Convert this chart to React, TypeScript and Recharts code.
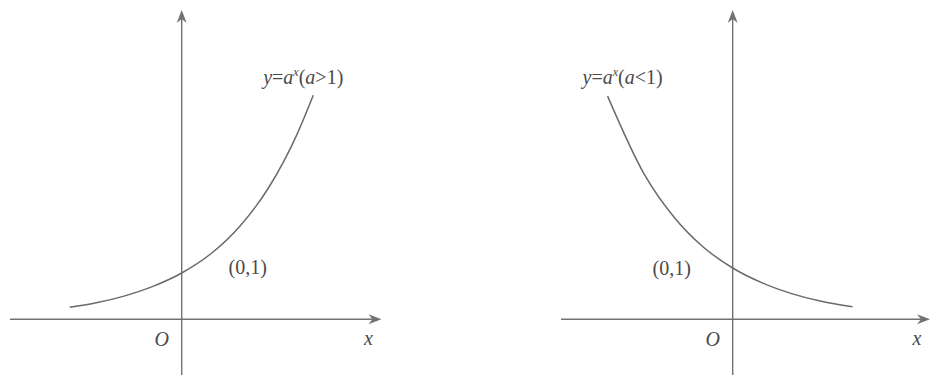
import React from 'react';
import { LineChart, Line, XAxis, YAxis, ReferenceLine, ReferenceDot } from 'recharts';

// y = a^x, a > 1 (left panel)
const growthX = [-1.94, -1.5, -1, -0.5, 0, 0.5, 1, 1.5, 2, 2.28];
const growthY = [0.26, 0.35, 0.5, 0.71, 1, 1.41, 2, 2.83, 4, 4.84];

// y = a^x, a < 1 (right panel)
const decayX = [-2.12, -1.5, -1, -0.5, 0, 0.5, 1, 1.5, 2.03];
const decayY = [4.35, 2.83, 2, 1.41, 1, 0.71, 0.5, 0.35, 0.245];

const growthLabel = { base: '>', num: '1' };
const decayLabel = { base: '<', num: '1' };
const pointLabel = '(0,1)';
const originLabel = 'O';
const axisLabel = 'x';

const FONT = '"Liberation Serif", "DejaVu Serif", serif';
const AXIS = '#727272';
const CURVE = '#6a6a6a';
const INK = '#4a4a4a';

type PanelProps = {
    xs: number[];
    ys: number[];
    xDomain: [number, number];
    yDomain: [number, number];
    xAxisFrom: number;
    xAxisTo: number;
    yAxisTo: number;
    sign: { base: string; num: string };
    labelAt: 'first' | 'last';
    labelDx: number;
    labelDy: number;
    pointDx: number;
    pointDy: number;
};

const W = 466;
const H = 375;

// filled arrow heads with a slightly hollow back
const ArrowRight = (p: any) => {
    const { cx, cy } = p;
    return <path d={`M${cx},${cy} L${cx - 13},${cy - 5} L${cx - 9},${cy} L${cx - 13},${cy + 5} Z`} fill={AXIS} />;
};
const ArrowUp = (p: any) => {
    const { cx, cy } = p;
    return <path d={`M${cx},${cy} L${cx - 5},${cy + 13} L${cx},${cy + 9} L${cx + 5},${cy + 13} Z`} fill={AXIS} />;
};

const textAt = (content: React.ReactNode, dx: number, dy: number, anchor = 'middle') => (p: any) => (
    <text x={p.cx + dx} y={p.cy + dy} textAnchor={anchor} fontFamily={FONT} fontSize={20} fill={INK}>
        {content}
    </text>
);

const Formula = ({ sign }: { sign: { base: string; num: string } }) => (
    <>
        <tspan fontStyle="italic">y</tspan>
        <tspan>=</tspan>
        <tspan fontStyle="italic">a</tspan>
        <tspan fontStyle="italic" fontSize={12} dy={-8}>x</tspan>
        <tspan dy={8}>(</tspan>
        <tspan fontStyle="italic">a</tspan>
        <tspan>{sign.base}{sign.num})</tspan>
    </>
);

const Panel: React.FC<PanelProps> = (props) => {
    const { xs, ys, xDomain, yDomain } = props;
    const data = xs.map((x, i) => ({ x, y: ys[i] }));
    const anchor = props.labelAt === 'first' ? data[0] : data[data.length - 1];

    return (
        <LineChart width={W} height={H} data={data} margin={{ top: 0, right: 0, bottom: 0, left: 0 }}>
            <XAxis type="number" dataKey="x" domain={xDomain} allowDataOverflow hide />
            <YAxis type="number" domain={yDomain} allowDataOverflow hide />

            <ReferenceLine segment={[{ x: props.xAxisFrom, y: 0 }, { x: props.xAxisTo - 0.1, y: 0 }]} stroke={AXIS} strokeWidth={1.4} />
            <ReferenceLine segment={[{ x: 0, y: yDomain[0] }, { x: 0, y: props.yAxisTo - 0.1 }]} stroke={AXIS} strokeWidth={1.4} />
            <ReferenceDot x={props.xAxisTo} y={0} r={0} shape={ArrowRight} />
            <ReferenceDot x={0} y={props.yAxisTo} r={0} shape={ArrowUp} />

            <Line type="monotone" dataKey="y" stroke={CURVE} strokeWidth={1.5} dot={false} activeDot={false} isAnimationActive={false} />

            <ReferenceDot x={anchor.x} y={anchor.y} r={0} shape={textAt(<Formula sign={props.sign} />, props.labelDx, props.labelDy)} />
            <ReferenceDot x={0} y={1} r={0} shape={textAt(pointLabel, props.pointDx, props.pointDy)} />
            <ReferenceDot x={0} y={0} r={0} shape={textAt(<tspan fontStyle="italic">{originLabel}</tspan>, -20, 27)} />
            <ReferenceDot x={props.xAxisTo} y={0} r={0} shape={textAt(<tspan fontStyle="italic">{axisLabel}</tspan>, -13, 26)} />
        </LineChart>
    );
};

export default function App() {
    return (
        <div style={{ position: 'fixed', left: 0, top: 0, width: 932, height: 375, background: '#fff', display: 'flex' }}>
            <Panel
                xs={growthX}
                ys={growthY}
                xDomain={[-3.149, 4.927]}
                yDomain={[-1.203, 6.896]}
                xAxisFrom={-2.976}
                xAxisTo={3.461}
                yAxisTo={6.68}
                sign={growthLabel}
                labelAt="last"
                labelDx={-10}
                labelDy={-11}
                pointDx={66}
                pointDy={1}
            />
            <Panel
                xs={decayX}
                ys={decayY}
                xDomain={[-4.52, 3.378]}
                yDomain={[-1.086, 6.224]}
                xAxisFrom={-2.91}
                xAxisTo={3.344}
                yAxisTo={6.03}
                sign={decayLabel}
                labelAt="first"
                labelDx={15}
                labelDy={-12}
                pointDx={-61}
                pointDy={7}
            />
        </div>
    );
}
